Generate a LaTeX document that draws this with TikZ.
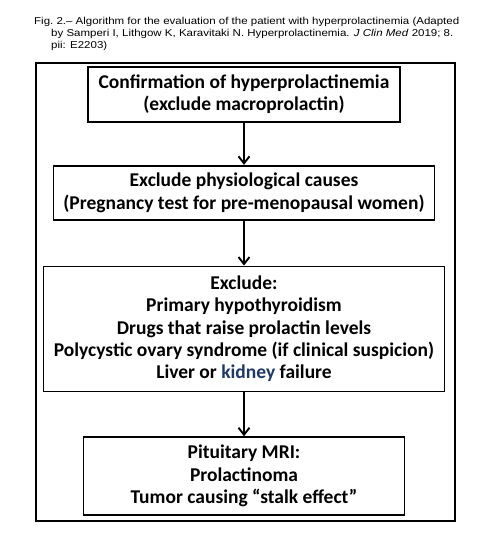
\documentclass[tikz,border=0pt]{standalone}
\usepackage{fontspec}
\setmainfont{Carlito}
\newfontfamily\captionfont[FakeStretch=1.15]{Liberation Sans}
\usepackage{xcolor}
\usetikzlibrary{arrows.meta, positioning}
\definecolor{kidneyblue}{RGB}{31, 56, 100}

\begin{document}
\begin{tikzpicture}[
        x=1pt, y=1pt,
        stepbox/.style={rectangle, draw=black, line width=1.7pt, fill=white,
                    align=center, inner sep=1pt,
                    font=\bfseries\fontsize{19.5}{22.3}\selectfont},
        arr/.style={-{Straight Barb[length=7pt, width=11pt]}, line width=1.9pt}
      ]
        \useasboundingbox (0,-542) rectangle (482,0);

        % caption above the frame
        \node[anchor=north west, align=left, inner sep=0pt,
              font=\captionfont\fontsize{10}{11.7}\selectfont] (caption) at (34,-17.5)
              {Fig.~2.– Algorithm for the evaluation of the patient with hyperprolactinemia (Adapted\\
               \hspace*{17pt}by Samperi I, Lithgow K, Karavitaki N. Hyperprolactinemia. \textit{J Clin Med} 2019; 8.\\
               \hspace*{17pt}pii: E2203)};

        % outer frame
        \draw[line width=1.2pt] (36,-63) rectangle (455,-521);

        \node[stepbox, minimum width=312pt, minimum height=55pt] (confirm) at (244,-94.5)
              {Confirmation of hyperprolactinemia\\(exclude macroprolactin)};
        \node[stepbox, below=42pt of confirm, minimum width=381pt, minimum height=54pt] (physio)
              {Exclude physiological causes\\(Pregnancy test for pre-menopausal women)};
        \node[stepbox, below=45pt of physio, minimum width=401pt, minimum height=125pt] (exclude)
              {Exclude:\\Primary hypothyroidism\\Drugs that raise prolactin levels\\
               Polycystic ovary syndrome (if clinical suspicion)\\
               Liver or \textcolor{kidneyblue}{kidney} failure};
        \node[stepbox, below=44pt of exclude, minimum width=321pt, minimum height=78pt] (mri)
              {Pituitary MRI:\\Prolactinoma\\Tumor causing “stalk effect”};

        \draw[arr] (confirm) -- (physio);
        \draw[arr] (physio) -- (exclude);
        \draw[arr] (exclude) -- (mri);
      \end{tikzpicture}
\end{document}
